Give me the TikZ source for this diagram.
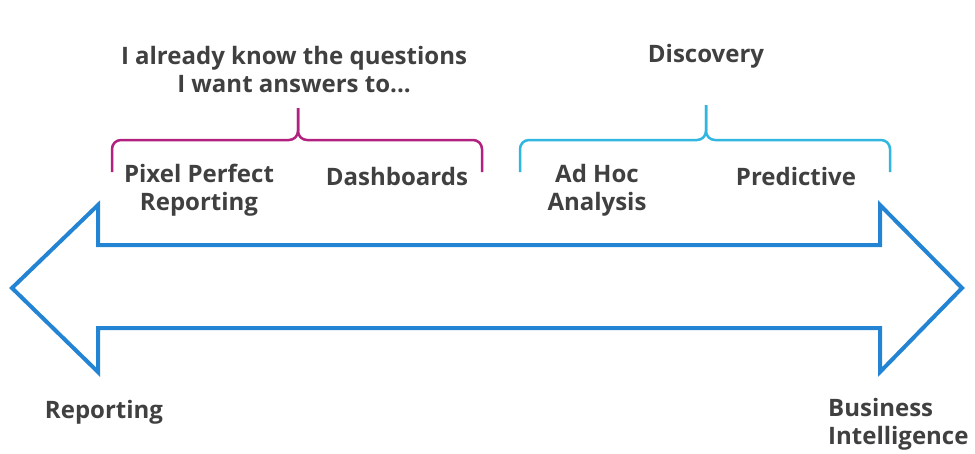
\documentclass[tikz,border=0pt]{standalone}
\usepackage{fontspec}
\setmainfont{Open Sans}
\definecolor{arrowblue}{RGB}{36,132,212}
\definecolor{bracepink}{RGB}{178,32,128}
\definecolor{bracecyan}{RGB}{48,182,224}
\definecolor{labelgray}{RGB}{64,64,64}
\tikzset{
  label/.style={text=labelgray,font=\fontsize{24}{28}\selectfont\bfseries,align=center,inner sep=0pt},
  bracepath/.style={line width=2.5pt,rounded corners=9pt}
}
\begin{document}
\begin{tikzpicture}[x=1pt,y=-1pt]
  \useasboundingbox (0,0) rectangle (975,453);
  % double arrow
  \draw[arrowblue,line width=4pt,line join=miter]
  (12,288) -- (98,205) -- (98,245) -- (880,245) -- (880,205) -- (962,288)
  -- (880,372) -- (880,328) -- (98,328) -- (98,372) -- cycle;
  % braces
  \draw[bracepink,bracepath] (112,172) -- (112,140) -- (298,140) -- (298,108);
  \draw[bracepink,bracepath] (298,108) -- (298,140) -- (482,140) -- (482,172);
  \draw[bracecyan,bracepath] (520,172) -- (520,140) -- (706,140) -- (706,105);
  \draw[bracecyan,bracepath] (706,105) -- (706,140) -- (890,140) -- (890,172);
  % labels
  \node[label] (know) at (294,70) {I already know the questions\\I want answers to...};
  \node[label] (disc) at (706,56) {Discovery};
  \node[label] (pixel) at (199,190) {Pixel Perfect\\Reporting};
  \node[label] (dash) at (397,176) {Dashboards};
  \node[label] (adhoc) at (597,190) {Ad Hoc\\Analysis};
  \node[label] (pred) at (796,176) {Predictive};
  \node[label] (rep) at (104,412) {Reporting};
  \node[label,align=left,anchor=west] (bi) at (828,424) {Business\\Intelligence};
\end{tikzpicture}
\end{document}
